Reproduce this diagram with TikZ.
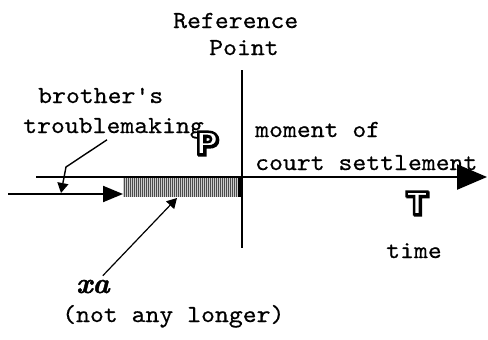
\documentclass[tikz,border=0pt]{standalone}
\usepackage{fontspec}
\setmonofont{lmmono10-regular.otf}[FakeBold=0.5, FakeStretch=1.08]
\newfontfamily\hollowfont{DejaVu Sans}[UprightFont=* Bold, FakeBold=8]
\newfontfamily\xafont{lmroman10-bolditalic.otf}[FakeBold=1.5]
% white fill, black stroke for outlined capitals
\newcommand\hollowcap[1]{\special{pdf:bcolor [1] [0]}{\hollowfont #1}\special{pdf:ecolor}}
\usetikzlibrary{arrows.meta}
\begin{document}
\begin{tikzpicture}[x=1pt,y=-1pt,
  lbl/.style={font=\fontsize{24.5}{26}\selectfont\ttfamily, inner sep=0pt, anchor=base west},
  axis/.style={line width=2.5pt},
  pointer/.style={line width=1.4pt, -{Triangle[length=10pt,width=11pt]}},
  bigletter/.style={font=\fontsize{31}{31}\selectfont, inner sep=0pt},
  lettershadow/.style={bigletter, font=\fontsize{31}{31}\selectfont\hollowfont, text=black, xshift=1pt, yshift=-1pt}]
\useasboundingbox (0,0) rectangle (488,340);

% labels
\node[lbl] (ref)  at (173,28)  {Reference};
\node[lbl] (pt)   at (209,55)  {Point};
\node[lbl] (bro)  at (38,103)  {brother's};
\node[lbl] (trb)  at (23,133)  {troublemaking};
\node[lbl] (mom)  at (255,137) {moment of};
\node[lbl] (crt)  at (255,170) {court settlement};
\node[lbl] (time) at (386,258) {time};
\node[font=\fontsize{29}{29}\selectfont\xafont, inner sep=0pt, anchor=base west] (xa) at (76,293) {xa};
\node[lbl] (nal)  at (62,322)  {(not any longer)};

% outlined capitals with drop shadow
\node[lettershadow] (Ps) at (207,143) {P};
\node[bigletter] (P) at (207,143) {\hollowcap{P}};
\node[lettershadow] (Ts) at (417,203) {T};
\node[bigletter] (T) at (417,203) {\hollowcap{T}};

% reference point line
\coordinate (rtop) at (242,70);
\coordinate (rbot) at (242,248);
\draw[axis] (rtop) -- (rbot);

% shaded interval
\fill[gray!40] (123,178) rectangle (240,197);
\foreach \x in {124,126,...,238}
  \draw[black!70, line width=0.8pt] (\x,178) -- (\x,197);
\fill[black] (238,177) rectangle (243,197);

% time axis
\coordinate (axL) at (36,177);
\coordinate (axR) at (487,177);
\draw[axis, -{Triangle[length=30pt,width=25pt]}] (axL) -- (axR);

% incoming event line
\coordinate (evL) at (8,194);
\coordinate (evR) at (123,194);
\draw[line width=2pt, -{Triangle[length=20pt,width=16pt]}] (evL) -- (evR);

% pointers
\coordinate (tbTip) at (61,193);
\draw[pointer] (trb.south west) ++(84,1) -- (66,167) -- (tbTip);
\coordinate (xaTip) at (177,198);
\draw[pointer, line width=1.2pt] (xa.north east) ++(-7,-4) -- (xaTip);
\end{tikzpicture}
\end{document}
